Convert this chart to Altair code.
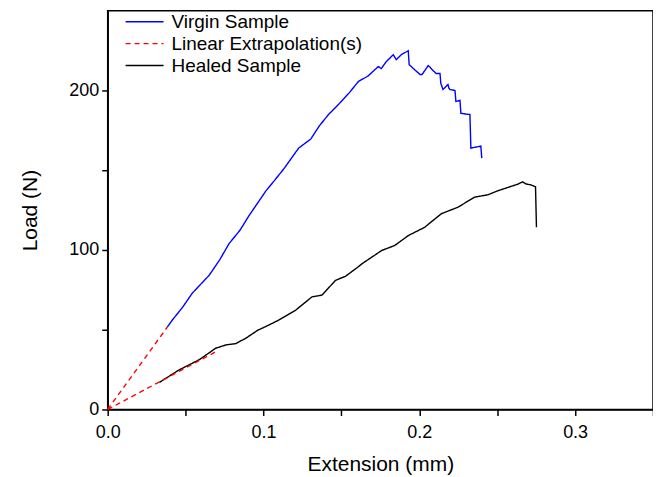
import altair as alt
import pandas as pd

# Virgin sample (blue)
virgin_x = [0.0383, 0.0415, 0.0480, 0.0543, 0.0651, 0.0720, 0.0779, 0.0850, 0.0907, 0.1016, 0.1070,
            0.1130, 0.1226, 0.1303, 0.1360, 0.1418, 0.1482, 0.1550, 0.1609, 0.1670, 0.1737, 0.1756,
            0.1788, 0.1833, 0.1852, 0.1884, 0.1929, 0.1935, 0.1970, 0.2005, 0.2018, 0.2057, 0.2070,
            0.2076, 0.2108, 0.2133, 0.2138, 0.2152, 0.2184, 0.2190, 0.2197, 0.2229, 0.2235, 0.2261,
            0.2267, 0.2312, 0.2325, 0.2331, 0.2363, 0.2395, 0.2401]
virgin_y = [51.7, 56.1, 64.0, 72.9, 84.1, 94.0, 104.0, 112.5, 121.5, 137.1, 143.5,
            150.8, 163.9, 169.5, 178.0, 185.0, 191.3, 198.5, 205.6, 209.0, 215.0, 213.7,
            218.1, 222.4, 219.3, 222.4, 224.9, 216.2, 213.0, 210.0, 210.0, 215.6, 214.5,
            213.7, 210.6, 210.6, 204.5, 200.6, 203.7, 201.5, 200.6, 200.0, 193.1, 193.8,
            185.7, 185.0, 185.0, 163.9, 164.5, 165.1, 157.6]

# Healed sample (black)
healed_x = [0.0332, 0.0460, 0.0588, 0.0693, 0.0760, 0.0822, 0.0887, 0.0965, 0.1013, 0.1099, 0.1207,
            0.1311, 0.1375, 0.1463, 0.1526, 0.1606, 0.1631, 0.1759, 0.1842, 0.1929, 0.2034, 0.2141,
            0.2248, 0.2354, 0.2440, 0.2504, 0.2631, 0.2663, 0.2684, 0.2716, 0.2746, 0.2752]
healed_y = [17.0, 24.9, 31.2, 38.4, 40.5, 41.3, 44.7, 49.8, 51.9, 56.1, 62.3,
            70.6, 71.7, 81.0, 83.5, 89.3, 91.3, 99.7, 102.8, 109.0, 114.2, 122.7,
            126.8, 133.1, 134.6, 137.1, 141.2, 142.7, 141.4, 140.8, 139.6, 114.2]

# Linear extrapolations (red dashed)
ext1_x = [0.0, 0.0383]
ext1_y = [0.0, 51.7]
ext2_x = [0.0, 0.0700]
ext2_y = [0.0, 36.5]

series = ["Virgin Sample", "Linear Extrapolation(s)", "Healed Sample"]
colors = ["#0000ff", "#ff0000", "#000000"]
dashes = [[1, 0], [5, 4], [1, 0]]

rows = []
for i, (x, y) in enumerate(zip(virgin_x, virgin_y)):
    rows.append(dict(x=x, y=y, s="Virgin Sample", seg="v", o=i))
for i, (x, y) in enumerate(zip(healed_x, healed_y)):
    rows.append(dict(x=x, y=y, s="Healed Sample", seg="h", o=i))
for i, (x, y) in enumerate(zip(ext1_x, ext1_y)):
    rows.append(dict(x=x, y=y, s="Linear Extrapolation(s)", seg="e1", o=i))
for i, (x, y) in enumerate(zip(ext2_x, ext2_y)):
    rows.append(dict(x=x, y=y, s="Linear Extrapolation(s)", seg="e2", o=i))
df = pd.DataFrame(rows)

FONT = "Liberation Sans"

xaxis = alt.Axis(
    title="Extension (mm)",
    values=[0, 0.05, 0.1, 0.15, 0.2, 0.25, 0.3, 0.35],
    labelExpr="(round(datum.value*100) % 10 == 0) ? format(datum.value, '.1f') : ''",
    grid=False, tickSize=6, tickColor="black", tickWidth=1.5,
    domainColor="black", domainWidth=1.5,
    labelFontSize=18, labelFont=FONT, labelColor="black", labelPadding=8,
    titleFontSize=21, titleFont=FONT, titleFontWeight="normal", titleColor="black", titlePadding=12,
    labelFlush=False,
)
yaxis = alt.Axis(
    title="Load (N)",
    values=[0, 50, 100, 150, 200],
    labelExpr="(datum.value % 100 == 0) ? datum.label : ''",
    grid=False, tickSize=6, tickColor="black", tickWidth=1.5,
    domainColor="black", domainWidth=1.5,
    labelFontSize=18, labelFont=FONT, labelColor="black", labelPadding=3,
    titleFontSize=21, titleFont=FONT, titleFontWeight="normal", titleColor="black", titlePadding=28,
    labelFlush=False,
)

legend = alt.Legend(title=None, orient="none", legendX=17, legendY=1,
                    symbolType="stroke", symbolSize=1450, symbolStrokeWidth=1.4,
                    labelFontSize=19, labelFont=FONT, labelColor="black", labelLimit=400,
                    labelOffset=7, clipHeight=20, rowPadding=2)

chart = alt.Chart(df).mark_line(strokeWidth=1.4).encode(
    x=alt.X("x:Q", scale=alt.Scale(domain=[0, 0.35], nice=False, zero=False), axis=xaxis),
    y=alt.Y("y:Q", scale=alt.Scale(domain=[0, 250], nice=False), axis=yaxis),
    color=alt.Color("s:N", scale=alt.Scale(domain=series, range=colors), legend=legend),
    strokeDash=alt.StrokeDash("s:N", scale=alt.Scale(domain=series, range=dashes), legend=legend),
    detail="seg:N",
    order="o:Q",
).properties(
    width=547, height=400,
    autosize=alt.AutoSizeParams(type="none"),
    padding={"left": 100, "top": 2, "right": 0, "bottom": 66},
).configure_view(stroke="black", strokeWidth=1.5)

chart.save("out.html", embed_options={"renderer": "svg", "actions": False})
